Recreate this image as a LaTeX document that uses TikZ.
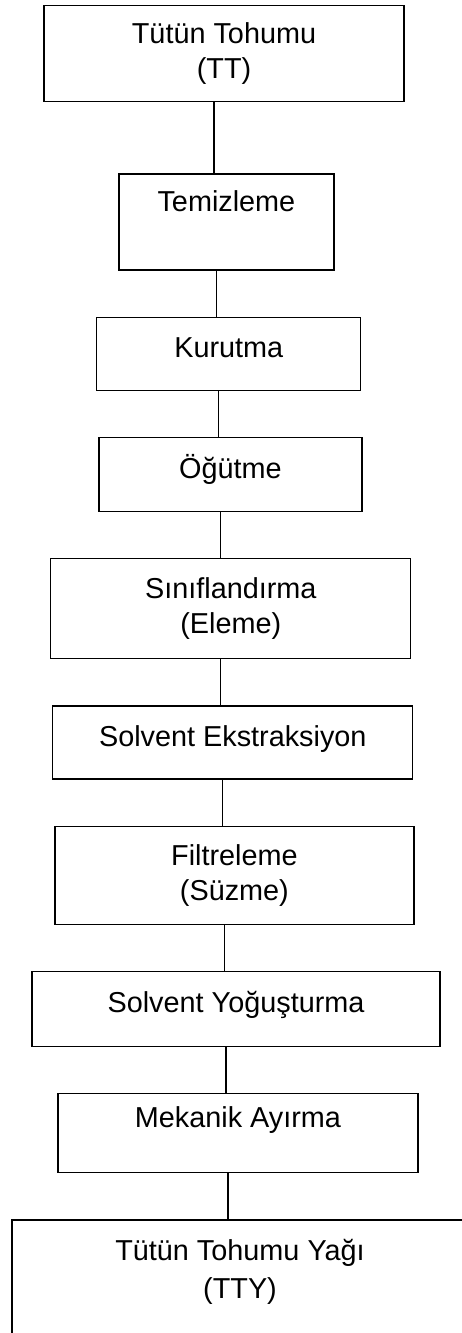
\documentclass[tikz,border=0pt]{standalone}
\usepackage{fontspec}
\setmainfont{Liberation Sans}
\usetikzlibrary{positioning}

\begin{document}
\begin{tikzpicture}[
  node distance=1.15cm and 1cm,
  box/.style={draw, line width=0.9pt, inner sep=0pt, align=center, font=\fontsize{20.5}{25}\selectfont},
  one/.style={text height=15.4pt, text depth=#1},
  one/.default=10.3pt,
  link/.style={line width=0.8pt}
]
  \clip (0,0) rectangle (11.55,-33.325);
  \node[box, anchor=north, minimum width=9cm, minimum height=2.4cm] (tt) at (5.6,-0.125) {Tütün Tohumu\\(TT)};
  \node[box, one=29.5pt, minimum width=5.375cm, minimum height=2.4cm, below=1.775cm of tt, xshift=.06cm] (temiz) {Temizleme};
  \node[box, one, minimum width=6.6cm, minimum height=1.825cm, below=of temiz, xshift=.06cm] (kurut) {Kurutma};
  \node[box, one, minimum width=6.575cm, minimum height=1.85cm, below=of kurut, xshift=.04cm] (ogut) {Öğütme};
  \node[box, minimum width=9cm, minimum height=2.5cm, below=of ogut, xshift=.01cm] (sinif) {Sınıflandırma\\(Eleme)};
  \node[box, one, minimum width=9cm, minimum height=1.825cm, below=of sinif, xshift=.05cm] (ekstr) {Solvent Ekstraksiyon};
  \node[box, minimum width=8.975cm, minimum height=2.45cm, below=of ekstr, xshift=.04cm] (filtre) {Filtreleme\\(Süzme)};
  \node[box, one, minimum width=10.2cm, minimum height=1.875cm, below=of filtre, xshift=.04cm] (yogus) {Solvent Yoğuşturma};
  \node[box, one=23.2pt, minimum width=9cm, minimum height=1.975cm, below=of yogus, xshift=.05cm] (ayir) {Mekanik Ayırma};
  \node[box, text depth=18.5pt, minimum width=11.4cm, minimum height=3.075cm, below=of ayir, xshift=.05cm] (tty) {Tütün Tohumu Yağı\\[2pt](TTY)};

  \foreach \a/\b in {tt/temiz, temiz/kurut, kurut/ogut, ogut/sinif, sinif/ekstr, ekstr/filtre, filtre/yogus, yogus/ayir, ayir/tty}
    \draw[link] ([xshift=-.25cm]\a.south) -- ([xshift=-.25cm]\a.south |- \b.north);
\end{tikzpicture}
\end{document}
